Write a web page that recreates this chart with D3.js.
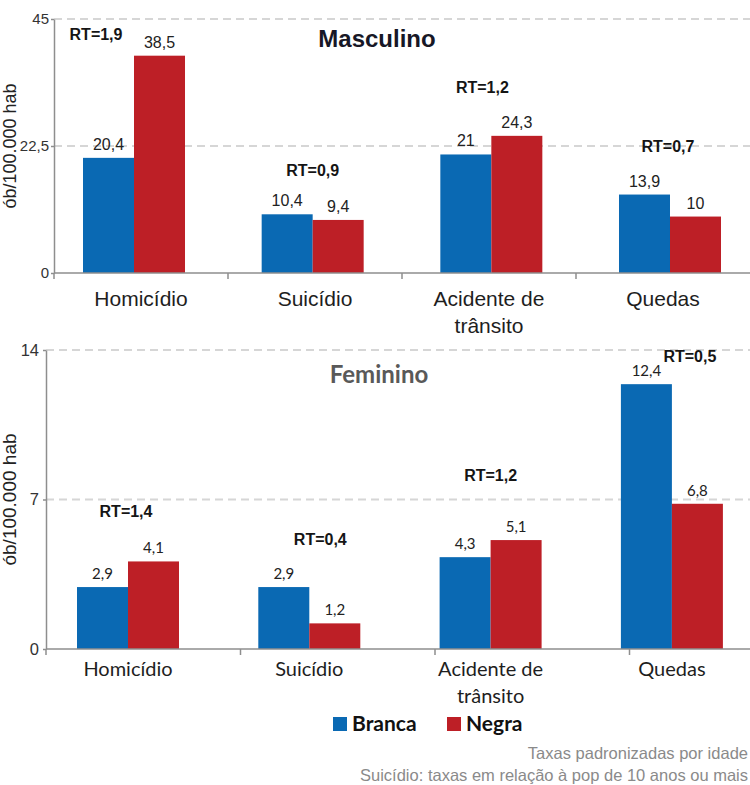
<!DOCTYPE html>
<html>
<head>
<meta charset="utf-8">
<script src="https://cdn.jsdelivr.net/npm/d3@7"></script>
<style>
  html, body { margin: 0; padding: 0; background: #fff; }
  svg { display: block; }
</style>
</head>
<body>
<svg id="chart" width="750" height="785"></svg>
<script>
// Mortality rates by external cause, white vs. black population
const categories = ["Homicídio", "Suicídio", "Acidente de\ntrânsito", "Quedas"];
const series = ["Branca", "Negra"];

const masculinoBranca = [20.4, 10.4, 21, 13.9];
const masculinoNegra  = [38.5, 9.4, 24.3, 10];
const masculinoRT     = [1.9, 0.9, 1.2, 0.7];
const masculinoTicks  = [0, 22.5, 45];

const femininoBranca = [2.9, 2.9, 4.3, 12.4];
const femininoNegra  = [4.1, 1.2, 5.1, 6.8];
const femininoRT     = [1.4, 0.4, 1.2, 0.5];
const femininoTicks  = [0, 7, 14];

const yLabel = "ób/100.000 hab";
const notes = [
  "Taxas padronizadas por idade",
  "Suicídio: taxas em relação à pop de 10 anos ou mais"
];

const colors = { Branca: "#0a69b3", Negra: "#bd1f26" };
const locale = d3.formatLocale({ decimal: ",", thousands: ".", grouping: [3], currency: ["R$", ""] });
const fmt = locale.format("~f");
const fmtRT = locale.format(".1f");

const ARIAL = "'Liberation Sans', Arial, sans-serif";
const CALIBRI = "Lato, 'Noto Sans', sans-serif";

const svg = d3.select("#chart");
svg.append("rect").attr("width", 750).attr("height", 785).attr("fill", "#fff");

function drawPanel(cfg) {
  const g = svg.append("g");
  const rows = categories.map((c, i) => ({
    cat: c,
    values: [cfg.branca[i], cfg.negra[i]],
    rt: cfg.rt[i],
    off: cfg.rtOffset[i]
  }));

  const y = d3.scaleLinear().domain(d3.extent(cfg.ticks)).range(cfg.yRange);
  const xTick = d3.scaleBand().domain(categories).range(cfg.tickRange);
  const xBar = d3.scaleBand().domain(categories).range(cfg.barRange);
  const xSeries = d3.scaleBand().domain(series).range([-cfg.barWidth, cfg.barWidth]);
  const center = c => xBar(c) + xBar.bandwidth() / 2;
  const labelCenter = cfg.labelOnTicks ? (c => xTick(c) + xTick.bandwidth() / 2) : center;

  const x0 = cfg.tickRange[0];
  const y0 = y(0);

  // dashed gridlines
  g.selectAll(".grid")
    .data(cfg.ticks.filter(t => t > 0))
    .join("line")
    .attr("x1", x0).attr("x2", 750)
    .attr("y1", d => y(d)).attr("y2", d => y(d))
    .attr("stroke", "#d6d6d6").attr("stroke-width", 2)
    .attr("stroke-dasharray", "8,5");

  // bars
  const groups = g.selectAll(".cat").data(rows).join("g")
    .attr("transform", d => `translate(${center(d.cat)},0)`);
  groups.selectAll("rect")
    .data(d => d.values.map((v, k) => ({ s: series[k], v })))
    .join("rect")
    .attr("x", d => xSeries(d.s))
    .attr("width", xSeries.bandwidth())
    .attr("y", d => y(d.v))
    .attr("height", d => y0 - y(d.v))
    .attr("fill", d => colors[d.s]);

  // value labels
  groups.selectAll(".val")
    .data(d => d.values.map((v, k) => ({ s: series[k], v })))
    .join("text")
    .attr("x", d => xSeries(d.s) + xSeries.bandwidth() / 2)
    .attr("y", d => y(d.v) - 8)
    .attr("text-anchor", "middle")
    .attr("font-family", cfg.valueFont)
    .attr("font-size", cfg.valueSize)
    .attr("fill", "#222")
    .text(d => fmt(d.v));

  // RT annotations
  groups.append("text")
    .attr("x", d => d.off[0])
    .attr("y", d => y(d3.max(d.values)) + d.off[1])
    .attr("text-anchor", "middle")
    .attr("font-family", ARIAL)
    .attr("font-weight", "bold")
    .attr("font-size", 16)
    .attr("fill", "#151515")
    .text(d => "RT=" + fmtRT(d.rt));

  // y axis
  const yAxis = d3.axisLeft(y).tickValues(cfg.ticks).tickFormat(fmt)
    .tickSize(cfg.yTickSize).tickSizeOuter(0).tickPadding(cfg.yTickPad);
  const ya = g.append("g").attr("transform", `translate(${x0},0)`).call(yAxis);
  ya.select(".domain").attr("stroke", "#8e8e8e").attr("stroke-width", 1.5);
  ya.selectAll(".tick line").attr("stroke", "#8e8e8e").attr("stroke-width", 1.5);
  ya.selectAll(".tick text")
    .attr("font-family", ARIAL).attr("font-size", cfg.yTickFont).attr("fill", "#333");

  // x axis baseline with category separators
  g.append("line")
    .attr("x1", x0).attr("x2", 750).attr("y1", y0).attr("y2", y0)
    .attr("stroke", "#8e8e8e").attr("stroke-width", 1.5);
  g.selectAll(".xtick").data(categories).join("line")
    .attr("x1", d => xTick(d)).attr("x2", d => xTick(d))
    .attr("y1", y0).attr("y2", y0 + 6)
    .attr("stroke", "#8e8e8e").attr("stroke-width", 1.5);

  // category labels
  const cl = g.selectAll(".cl").data(categories).join("text")
    .attr("text-anchor", "middle")
    .attr("font-family", cfg.catFont)
    .attr("font-size", cfg.catSize)
    .attr("fill", "#1e1e1e")
    .attr("transform", d => `translate(${labelCenter(d)},${y0 + cfg.catDy})`);
  cl.selectAll("tspan").data(d => d.split("\n")).join("tspan")
    .attr("x", 0).attr("dy", (d, i) => i === 0 ? 0 : 27).text(d => d);

  // panel title
  g.append("text")
    .attr("x", cfg.titleX).attr("y", cfg.titleY)
    .attr("text-anchor", "middle")
    .attr("font-family", cfg.titleFont)
    .attr("font-weight", "bold")
    .attr("font-size", 24)
    .attr("fill", cfg.titleColor)
    .text(cfg.title);

  // y axis title
  g.append("text")
    .attr("transform", `translate(16,${(cfg.yRange[0] + cfg.yRange[1]) / 2}) rotate(-90)`)
    .attr("text-anchor", "middle")
    .attr("font-family", ARIAL)
    .attr("font-size", cfg.yLabelSize)
    .attr("fill", "#222")
    .text(yLabel);
}

drawPanel({
  title: "Masculino", titleX: 377, titleY: 47, titleFont: ARIAL, titleColor: "#171726",
  branca: masculinoBranca, negra: masculinoNegra, rt: masculinoRT, ticks: masculinoTicks,
  yRange: [273, 19], tickRange: [54, 750], barRange: [44.67, 759.33], barWidth: 51,
  labelOnTicks: true,
  rtOffset: [[-38, -16], [0, -38], [-9, -43], [-2, -43]],
  valueFont: ARIAL, valueSize: 16,
  catFont: ARIAL, catSize: 21, catDy: 33,
  yTickSize: 3, yTickPad: 2, yTickFont: 15, yLabelSize: 18
});

drawPanel({
  title: "Feminino", titleX: 379, titleY: 383, titleFont: CALIBRI, titleColor: "#595959",
  branca: femininoBranca, negra: femininoNegra, rt: femininoRT, ticks: femininoTicks,
  yRange: [649, 350], tickRange: [46, 824], barRange: [37.35, 762.55], barWidth: 51,
  labelOnTicks: false,
  rtOffset: [[-2, -44], [11, -42], [0, -59], [18, -22]],
  valueFont: CALIBRI, valueSize: 15,
  catFont: CALIBRI, catSize: 20, catDy: 27,
  yTickSize: 3, yTickPad: 4, yTickFont: 16.5, yLabelSize: 19
});

// legend
const legend = svg.append("g").attr("transform", "translate(333,717)");
const lx = d3.scalePoint().domain(series).range([0, 114]);
const li = legend.selectAll("g").data(series).join("g")
  .attr("transform", d => `translate(${lx(d)},0)`);
li.append("rect").attr("width", 14).attr("height", 14).attr("fill", d => colors[d]);
li.append("text").attr("x", 19).attr("y", 14)
  .attr("font-family", CALIBRI).attr("font-weight", "bold").attr("font-size", 21)
  .attr("fill", "#111").text(d => d);

// footnotes, right-aligned to the page edge
svg.selectAll(".note").data(notes).join("text")
  .attr("x", 748)
  .attr("y", (d, i) => i === 0 ? 759 : 781)
  .attr("text-anchor", "end")
  .attr("font-family", ARIAL).attr("font-size", 16.5).attr("fill", "#8a8a8a")
  .text(d => d);
</script>
</body>
</html>
